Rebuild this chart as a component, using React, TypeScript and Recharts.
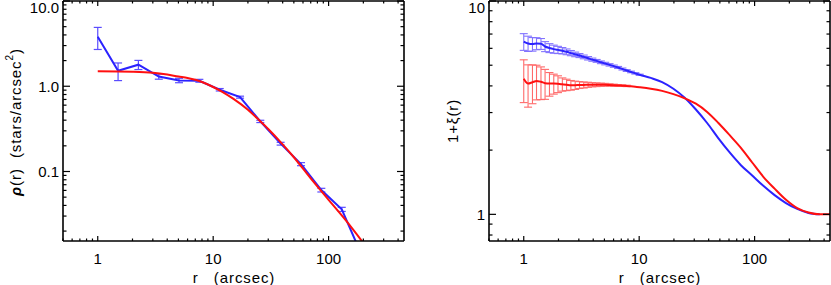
import React from 'react';
import { LineChart, Line, XAxis, YAxis, ErrorBar } from 'recharts';

// ---- left panel: density profile (blue = data, red = fit)
const profR = [1, 1.5, 2.25, 3.38, 5.06, 7.59, 11.4, 17.1, 25.6, 38.4, 57.7, 86.5, 130, 195];
const profRho = [3.8, 1.52, 1.79, 1.3, 1.17, 1.16, 0.91, 0.745, 0.387, 0.212, 0.122, 0.0605, 0.036, 0.0102];
// last point lies below the frame, so it has no error bar
const profErr = [1.1, 0.355, 0.22, 0.09, 0.07, 0.045, 0.03, 0.02, 0.012, 0.008, 0.005, 0.003, 0.002];

const fitR = [1, 2, 3, 4, 5, 6, 7, 8, 10, 12, 15, 20, 25, 30, 40, 50, 70, 100, 140, 200];
const fitRho = [1.5, 1.48, 1.44, 1.37, 1.3, 1.25, 1.19, 1.12, 0.98, 0.86, 0.71, 0.53, 0.4, 0.315, 0.208, 0.147, 0.083, 0.0465, 0.027, 0.0145];

// ---- right panel: 1 + xi(r)
const corrR = [
  1, 1.09, 1.19, 1.29, 1.41, 1.53, 1.67, 1.82, 1.98, 2.16, 2.35, 2.56, 2.79, 3.04, 3.31,
  3.61, 3.93, 4.28, 4.66, 5.08, 5.54, 6.03, 6.57, 7.16, 7.8, 8.5, 9.26, 10.1, 12.6, 15.8,
  19.8, 24.8, 31, 38.8, 48.6, 60.8, 76.1, 95.3, 119, 149, 187, 234, 293, 367, 450,
];
const corrBlue = [
  6.45, 6.32, 6.28, 6.32, 6.3, 6.12, 6.02, 5.95, 5.9, 5.85, 5.78, 5.7, 5.62, 5.55, 5.47,
  5.39, 5.31, 5.24, 5.16, 5.09, 5.02, 4.95, 4.88, 4.8, 4.72, 4.65, 4.58, 4.51, 4.36, 4.17,
  3.88, 3.52, 3.1, 2.68, 2.27, 1.95, 1.7, 1.52, 1.36, 1.23, 1.13, 1.06, 1.015, 1.0,
];
const corrBlueErr = [
  0.58, 0.52, 0.46, 0.41, 0.37, 0.33, 0.29, 0.26, 0.23, 0.2, 0.18, 0.16, 0.14, 0.12, 0.11,
  0.1, 0.09, 0.08, 0.075, 0.07, 0.065, 0.06, 0.055, 0.05, 0.045, 0.04, 0.035, 0.03,
];
const corrRed = [
  4.32, 4.1, 4.16, 4.22, 4.18, 4.12, 4.1, 4.1, 4.09, 4.07, 4.05, 4.03, 4.03, 4.04, 4.04,
  4.05, 4.05, 4.05, 4.05, 4.05, 4.04, 4.03, 4.02, 4.01, 4.0, 3.98, 3.96, 3.94, 3.88, 3.79,
  3.66, 3.5, 3.3, 3.02, 2.68, 2.35, 2.05, 1.75, 1.5, 1.32, 1.17, 1.07, 1.02, 1.0, 1.0,
];
const corrRedErr = [
  0.98, 0.92, 0.86, 0.78, 0.73, 0.66, 0.52, 0.44, 0.37, 0.29, 0.25, 0.21, 0.18, 0.15, 0.13,
  0.11, 0.09, 0.08, 0.07, 0.06, 0.05, 0.045, 0.04, 0.035, 0.03,
];

// ---- ticks
const xTicks = [0.5, 0.6, 0.7, 0.8, 0.9, 1, 2, 3, 4, 5, 6, 7, 8, 9, 10, 20, 30, 40, 50, 60, 70, 80, 90, 100, 200, 300, 400];
const xLabels: Record<string, string> = { 1: '1', 10: '10', 100: '100' };
const leftYTicks = [
  0.02, 0.03, 0.04, 0.05, 0.06, 0.07, 0.08, 0.09, 0.1, 0.2, 0.3, 0.4, 0.5, 0.6, 0.7, 0.8, 0.9,
  1, 2, 3, 4, 5, 6, 7, 8, 9, 10,
];
const leftYLabels: Record<string, string> = { 0.1: '0.1', 1: '1.0', 10: '10.0' };
const rightYTicks = [0.8, 0.9, 1, 2, 3, 4, 5, 6, 7, 8, 9, 10];
const rightYLabels: Record<string, string> = { 1: '1', 10: '10' };
const majors = [0.1, 1, 10, 100];

const BLUE = '#2b22ff';
const RED = '#ff1010';
const FONT = '"Liberation Sans", Arial, sans-serif';
const FS = 15;

const profData = profR.map((r, i) => ({ r, v: profRho[i] }));
const profErrData = profErr.map((err, i) => ({ r: profR[i], v: profRho[i], err }));
const fitData = fitR.map((r, i) => ({ r, v: fitRho[i] }));
const blueData = corrBlue.map((v, i) => ({ r: corrR[i], v }));
const blueErrData = corrBlueErr.map((err, i) => ({ r: corrR[i], v: corrBlue[i], err }));
const redData = corrRed.map((v, i) => ({ r: corrR[i], v }));
const redErrData = corrRedErr.map((err, i) => ({ r: corrR[i], v: corrRed[i], err }));

type Side = 'bottom' | 'top' | 'left' | 'right';

const Tick = (props: any) => {
  const { x, y, payload, side, labels, len } = props as {
    x: number; y: number; payload: { value: number }; side: Side; labels: Record<string, string> | null; len: number;
  };
  const v = payload.value;
  const key = String(v);
  const major = majors.includes(v);
  const l = major ? len : len / 2;
  let line = null;
  let label = null;
  if (side === 'bottom') {
    line = <line x1={x} y1={y} x2={x} y2={y - l} stroke="#000" strokeWidth={1.2} />;
    if (labels && major)
      label = (
        <text x={x} y={y + 17} textAnchor="middle" dominantBaseline="central" fontFamily={FONT} fontSize={FS} fill="#000">
          {labels[key]}
        </text>
      );
  } else if (side === 'top') {
    line = <line x1={x} y1={y} x2={x} y2={y + l} stroke="#000" strokeWidth={1.2} />;
  } else if (side === 'left') {
    line = <line x1={x} y1={y} x2={x + l} y2={y} stroke="#000" strokeWidth={1.2} />;
    if (labels && major)
      label = (
        <text x={x - 4} y={Math.max(y, 7)} textAnchor="end" dominantBaseline="central" fontFamily={FONT} fontSize={FS} fill="#000">
          {labels[key]}
        </text>
      );
  } else {
    line = <line x1={x} y1={y} x2={x - l} y2={y} stroke="#000" strokeWidth={1.2} />;
  }
  return (
    <g>
      {line}
      {label}
    </g>
  );
};

const axisLine = { stroke: '#000', strokeWidth: 1.6 };

function Panel(props: {
  width: number;
  left: number;
  right: number;
  yDomain: [number, number];
  yTicks: number[];
  yLabels: Record<string, string>;
  children: React.ReactNode;
}) {
  const { width, left, right, yDomain, yTicks, yLabels } = props;
  return (
    <LineChart width={width} height={285} margin={{ top: 0, left, right, bottom: 43 }}>
      <XAxis
        xAxisId="b"
        type="number"
        dataKey="r"
        scale="log"
        domain={[0.5, 450]}
        allowDataOverflow
        ticks={xTicks}
        interval={0}
        height={1}
        tickSize={0}
        tickMargin={0}
        tickLine={false}
        axisLine={axisLine}
        tick={(p: any) => <Tick {...p} side="bottom" labels={xLabels} len={5} />}
      />
      <XAxis
        xAxisId="t"
        orientation="top"
        type="number"
        dataKey="r"
        scale="log"
        domain={[0.5, 450]}
        allowDataOverflow
        ticks={xTicks}
        interval={0}
        height={1}
        tickSize={0}
        tickMargin={0}
        tickLine={false}
        axisLine={axisLine}
        tick={(p: any) => <Tick {...p} side="top" labels={null} len={5} />}
      />
      <YAxis
        yAxisId="l"
        type="number"
        scale="log"
        domain={yDomain}
        allowDataOverflow
        ticks={yTicks}
        interval={0}
        width={1}
        tickSize={0}
        tickMargin={0}
        tickLine={false}
        axisLine={axisLine}
        tick={(p: any) => <Tick {...p} side="left" labels={yLabels} len={7} />}
      />
      <YAxis
        yAxisId="r"
        orientation="right"
        type="number"
        scale="log"
        domain={yDomain}
        allowDataOverflow
        ticks={yTicks}
        interval={0}
        width={1}
        tickSize={0}
        tickMargin={0}
        tickLine={false}
        axisLine={axisLine}
        tick={(p: any) => <Tick {...p} side="right" labels={null} len={7} />}
      />
      {props.children}
    </LineChart>
  );
}

const titleStyle = { fontFamily: FONT, fontSize: FS, fill: '#000', letterSpacing: 0.9 };

// axis titles, drawn over both panels
function Titles() {
  return (
    <svg width={831} height={285} style={{ position: 'absolute', left: 0, top: 0, pointerEvents: 'none' }}>
      <text x={234} y={277} textAnchor="middle" dominantBaseline="central" style={titleStyle}>
        r{'\u00a0\u00a0\u00a0'}(arcsec)
      </text>
      <text x={660} y={277} textAnchor="middle" dominantBaseline="central" style={titleStyle}>
        r{'\u00a0\u00a0\u00a0'}(arcsec)
      </text>
      <text x={15} y={122} transform="rotate(-90 15 122)" textAnchor="middle" dominantBaseline="central" style={titleStyle}>
        <tspan fontStyle="italic" fontWeight="bold">ρ</tspan>
        <tspan>(r){'\u00a0\u00a0'}(stars/arcsec</tspan>
        <tspan fontSize={10} dy={-6}>2</tspan>
        <tspan dy={6}>)</tspan>
      </text>
      <text x={452} y={121} transform="rotate(-90 452 121)" textAnchor="middle" dominantBaseline="central" style={titleStyle}>
        1+ξ(r)
      </text>
    </svg>
  );
}

export default function App() {
  return (
    <div style={{ position: 'absolute', left: 0, top: 0, width: 831, height: 285, background: '#fff' }}>
      <div style={{ display: 'flex' }}>
        <Panel width={415} left={62} right={10} yDomain={[0.0153, 10]} yTicks={leftYTicks} yLabels={leftYLabels}>
          <Line xAxisId="b" yAxisId="l" data={profErrData} dataKey="v" stroke="none" dot={false} isAnimationActive={false}>
            <ErrorBar dataKey="err" direction="y" width={4} stroke="#5a4cff" strokeWidth={1.2} />
          </Line>
          <Line
            xAxisId="b"
            yAxisId="l"
            data={profData}
            dataKey="v"
            type="linear"
            stroke={BLUE}
            strokeWidth={2}
            dot={false}
            isAnimationActive={false}
          />
          <Line
            xAxisId="b"
            yAxisId="l"
            data={fitData}
            dataKey="v"
            type="monotone"
            stroke={RED}
            strokeWidth={2}
            dot={false}
            isAnimationActive={false}
          />
        </Panel>
        <Panel width={416} left={73} right={0} yDomain={[0.75, 10]} yTicks={rightYTicks} yLabels={rightYLabels}>
          <Line xAxisId="b" yAxisId="l" data={blueErrData} dataKey="v" stroke="none" dot={false} isAnimationActive={false}>
            <ErrorBar dataKey="err" direction="y" width={4} stroke="#8273ff" strokeWidth={1.1} />
          </Line>
          <Line xAxisId="b" yAxisId="l" data={redErrData} dataKey="v" stroke="none" dot={false} isAnimationActive={false}>
            <ErrorBar dataKey="err" direction="y" width={4} stroke="#ff6a6a" strokeWidth={1.1} />
          </Line>
          <Line
            xAxisId="b"
            yAxisId="l"
            data={blueData}
            dataKey="v"
            type="monotone"
            stroke={BLUE}
            strokeWidth={2}
            dot={false}
            isAnimationActive={false}
          />
          <Line
            xAxisId="b"
            yAxisId="l"
            data={redData}
            dataKey="v"
            type="monotone"
            stroke={RED}
            strokeWidth={2}
            dot={false}
            isAnimationActive={false}
          />
        </Panel>
      </div>
      <Titles />
    </div>
  );
}
